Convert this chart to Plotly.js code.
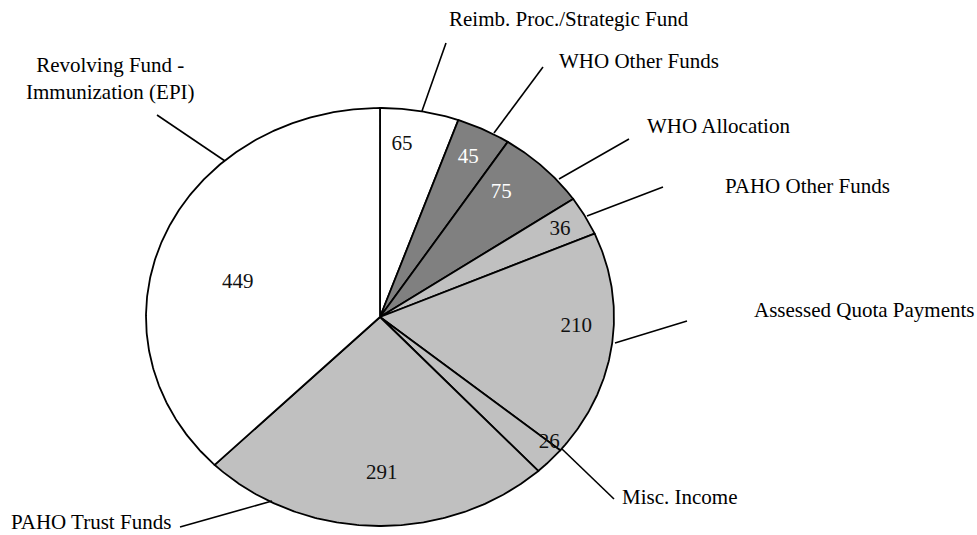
<!DOCTYPE html>
<html><head><meta charset="utf-8">
<script src="https://cdn.plot.ly/plotly-3.0.1.min.js"></script>
<style>html,body{margin:0;padding:0;background:#fff}#chart{width:977px;height:535px}</style>
</head><body><div id="chart"></div>
<script>
// ---- data ----
const categories = ["Reimb. Proc./Strategic Fund", "WHO Other Funds", "WHO Allocation", "PAHO Other Funds",
                    "Assessed Quota Payments", "Misc. Income", "PAHO Trust Funds", "Revolving Fund -<br>Immunization (EPI)"];
const values = [65, 45, 75, 36, 210, 26, 291, 449];

// ---- styles ----
const sliceColors = ["#ffffff", "#808080", "#808080", "#c0c0c0", "#c0c0c0", "#c0c0c0", "#c0c0c0", "#ffffff"];
const valueTextColors = ["#111", "#fff", "#fff", "#111", "#111", "#111", "#111", "#111"];
const FONT = "'Liberation Serif', 'Times New Roman', serif";
const FS = 21;

// ---- geometry (pixels) ----
const W = 977, H = 535, CX = 380, CY = 317, RX = 234, RY = 209;
const toX = px => (px - CX) / RX;
const toY = py => (CY - py) / RY;

// value label placement inside slices (radius fraction, angle shift in degrees)
const valueRadius = [0.83, 0.85, 0.79, 0.875, 0.84, 0.94, 0.75, 0.63];
const valueAngleShift = [-3.3, 0, -3.4, 0.5, -4.7, -3.8, -1.8, -7.2];

// category label placement (pixel): text anchor point and leader line
const labelPos = [
  {x: 447, y: 19, xa: "left"},
  {x: 557, y: 61, xa: "left"},
  {x: 645, y: 126, xa: "left"},
  {x: 723, y: 186, xa: "left"},
  {x: 752, y: 310, xa: "left"},
  {x: 620, y: 497, xa: "left"},
  {x: 9, y: 522, xa: "left"},
  {x: 110, y: 78.5, xa: "center"}
];
const leaders = [
  [422, 111, 446, 43],
  [494, 133, 543, 67],
  [559, 179, 629, 139],
  [587, 216, 663, 187],
  [615, 343, 687, 321],
  [562, 449, 614, 499],
  [272, 501, 180, 527],
  [225, 161, 157, 115]
];

const total = values.reduce((a, b) => a + b, 0);
const traces = [];
let cum = 0;
const tx = [], ty = [], tt = [];
values.forEach((v, i) => {
  const a0 = cum / total * 360, a1 = (cum + v) / total * 360;
  cum += v;
  const xs = [0], ys = [0];
  const n = Math.max(4, Math.ceil((a1 - a0) / 0.5));
  for (let k = 0; k <= n; k++) {
    const a = (a0 + (a1 - a0) * k / n) * Math.PI / 180;
    xs.push(Math.sin(a)); ys.push(Math.cos(a));
  }
  xs.push(0); ys.push(0);
  traces.push({
    type: "scatter", mode: "lines", x: xs, y: ys, fill: "toself",
    fillcolor: sliceColors[i], line: {color: "#000", width: 1.8},
    hoverinfo: "skip", showlegend: false
  });
  const am = ((a0 + a1) / 2 + valueAngleShift[i]) * Math.PI / 180;
  traces.push({
    type: "scatter", mode: "text", x: [valueRadius[i] * Math.sin(am)], y: [valueRadius[i] * Math.cos(am)],
    text: [String(v)], textposition: "middle center",
    textfont: {family: FONT, size: FS, color: valueTextColors[i]},
    hoverinfo: "skip", showlegend: false
  });
});

const shapes = leaders.map(l => ({
  type: "line", xref: "x", yref: "y",
  x0: toX(l[0]), y0: toY(l[1]), x1: toX(l[2]), y1: toY(l[3]),
  line: {color: "#000", width: 1.6}
}));

const annotations = categories.map((c, i) => ({
  xref: "x", yref: "y", x: toX(labelPos[i].x), y: toY(labelPos[i].y),
  text: c, showarrow: false, xanchor: labelPos[i].xa, yanchor: "middle", align: "center",
  font: {family: FONT, size: FS, color: "#000"}
}));

const layout = {
  width: W, height: H,
  margin: {l: 0, r: 0, t: 0, b: 0},
  paper_bgcolor: "#fff", plot_bgcolor: "#fff",
  xaxis: {range: [toX(0), toX(W)], visible: false, fixedrange: true},
  yaxis: {range: [toY(H), toY(0)], visible: false, fixedrange: true},
  shapes: shapes, annotations: annotations, showlegend: false
};

Plotly.newPlot("chart", traces, layout, {displayModeBar: false, staticPlot: true});
</script>
</body></html>
